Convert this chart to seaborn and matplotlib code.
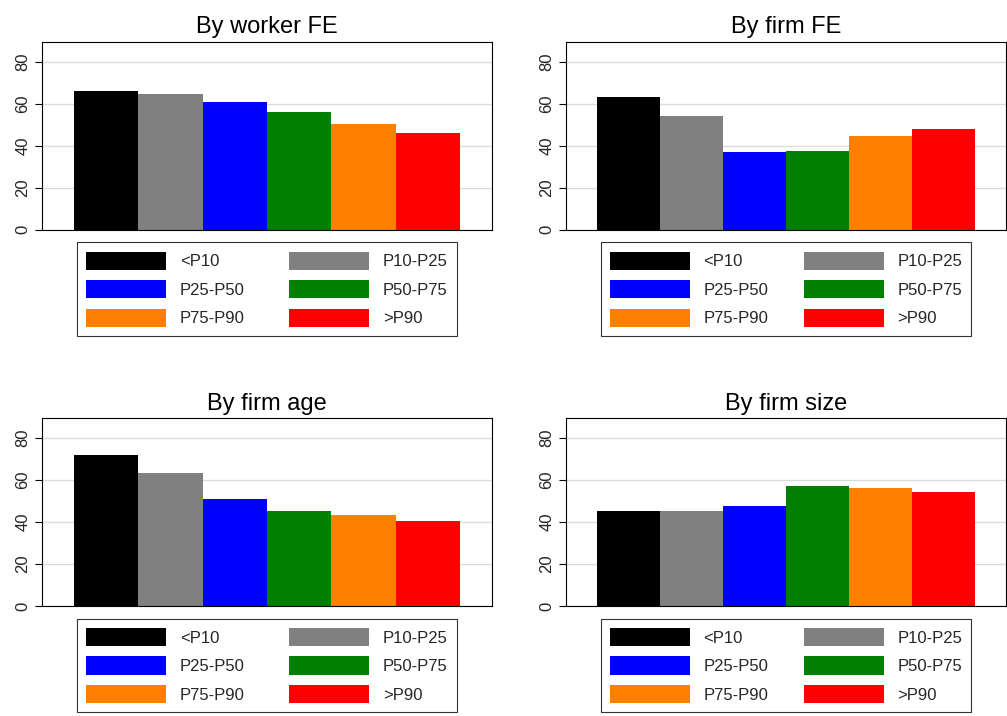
import numpy as np
import pandas as pd
import matplotlib
matplotlib.use("Agg")
import matplotlib.pyplot as plt
import seaborn as sns
from matplotlib.patches import Patch

sns.set_style("white")
plt.rcParams['font.family'] = ['Liberation Sans', 'DejaVu Sans']

groups = ["<P10", "P10-P25", "P25-P50", "P50-P75", "P75-P90", ">P90"]
colors = ["#000000", "#808080", "#0000ff", "#008000", "#ff8000", "#ff0000"]
titles = ["By worker FE", "By firm FE", "By firm age", "By firm size"]
worker_fe = [66, 64.5, 61, 56, 50.5, 46]
firm_fe = [63, 54, 37, 37.5, 44.5, 48]
firm_age = [72, 63.5, 51, 45, 43.5, 40.5]
firm_size = [45, 45, 47.5, 57, 56, 54.5]
panels = [worker_fe, firm_fe, firm_age, firm_size]

fig = plt.figure(figsize=(10.07, 7.16), dpi=100)
positions = [
    [0.0417, 0.679, 0.447, 0.2626],
    [0.562, 0.679, 0.437, 0.2626],
    [0.0417, 0.1536, 0.447, 0.2626],
    [0.562, 0.1536, 0.437, 0.2626],
]
order = [0, 2, 4, 1, 3, 5]  # row-wise legend fill

for pos, title, vals in zip(positions, titles, panels):
    ax = fig.add_axes(pos)
    df = pd.DataFrame({"group": groups, "value": vals})
    sns.barplot(data=df, x="group", y="value", hue="group", palette=colors,
                width=1.0, saturation=1, legend=False, linewidth=0, ax=ax)
    ax.set_ylim(0, 89.5)
    ax.set_xlim(-1.0, 6.0)
    ax.set_yticks([0, 20, 40, 60, 80])
    ax.tick_params(axis="y", labelrotation=90, labelsize=12, length=5, left=True, color="black")
    for lbl in ax.get_yticklabels():
        lbl.set_va("center")
    ax.set_xticks([])
    ax.set_xlabel("")
    ax.set_ylabel("")
    ax.yaxis.grid(True, color="#dcdcdc", linewidth=1)
    ax.set_axisbelow(True)
    for s in ax.spines.values():
        s.set_color("black")
        s.set_linewidth(0.8)
    ax.set_title(title, fontsize=17, pad=6, color="black")
    handles = [Patch(facecolor=colors[i], edgecolor="none") for i in order]
    labels = [groups[i] for i in order]
    leg = ax.legend(handles, labels, ncol=2, loc="upper left",
                    bbox_to_anchor=(0.06, -0.023, 0.88, 0.0), mode="expand",
                    fontsize=12, handlelength=4.8, handleheight=1.3,
                    columnspacing=2.0, labelspacing=0.62, borderpad=0.55,
                    frameon=True, fancybox=False, edgecolor="black")
    leg.get_frame().set_linewidth(0.8)

fig.savefig("out.png", dpi=100)
